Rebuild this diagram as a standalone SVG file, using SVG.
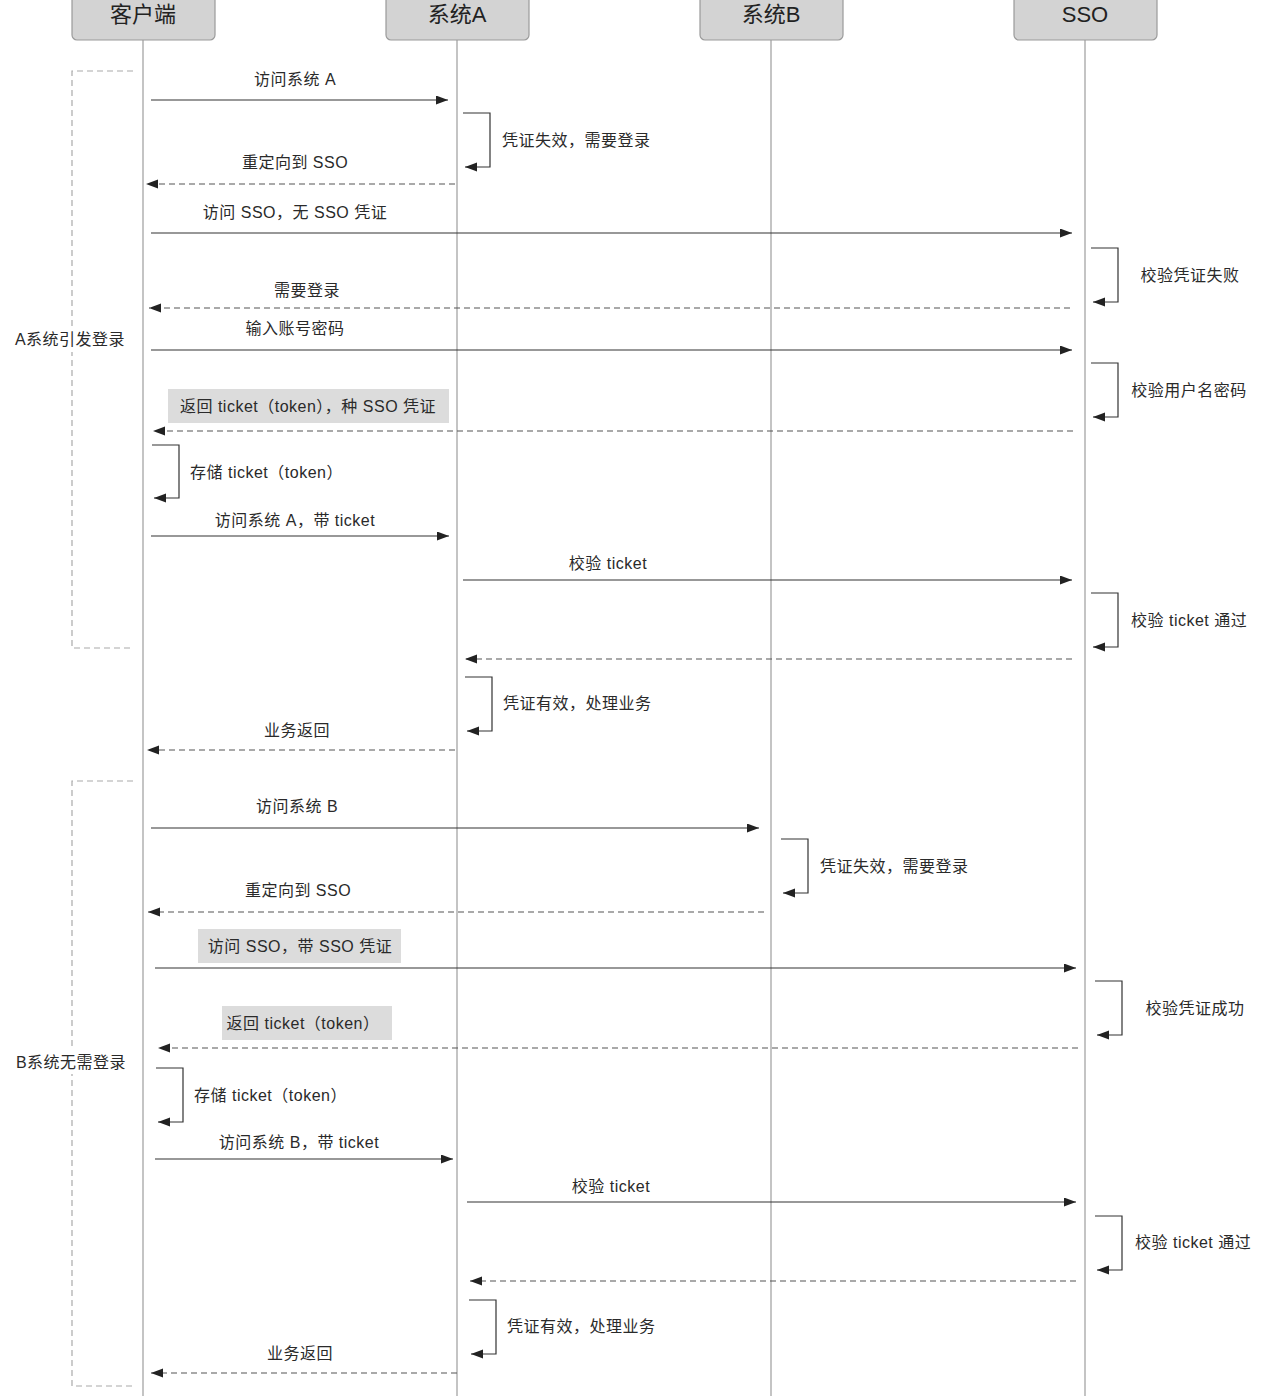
<svg xmlns="http://www.w3.org/2000/svg" width="1280" height="1396" viewBox="0 0 1280 1396">
<defs>
<marker id="ah" markerWidth="14" markerHeight="10" refX="12" refY="4.5" orient="auto" markerUnits="userSpaceOnUse">
<path d="M0,0 L12,4.5 L0,9 z" fill="#222"/>
</marker>
<style>
text{font-family:"Liberation Sans","Noto Sans CJK SC",sans-serif;fill:#2a2a2a;font-size:16px;letter-spacing:0.5px}
.hd{font-size:22px;fill:#222;text-anchor:middle;letter-spacing:0}
.box{fill:#d3d3d3;stroke:#9a9a9a;stroke-width:1.2}
.life{stroke:#b0b0b0;stroke-width:1.5;fill:none}
.frame{stroke:#aaa;stroke-width:1.2;stroke-dasharray:6 4;fill:none}
.msg{stroke:#333;stroke-width:1.2;fill:none;marker-end:url(#ah)}
.dash{stroke:#555;stroke-width:1.2;fill:none;stroke-dasharray:6 4;marker-end:url(#ah)}
.self{stroke:#333;stroke-width:1.2;fill:none;marker-end:url(#ah)}
.c{text-anchor:middle}
.lb{fill:#dcdcdc}
</style>
</defs>
<rect width="1280" height="1396" fill="#fff"/>

<g id="lifelines">
<line class="life" x1="143" y1="40" x2="143" y2="1396"/>
<line class="life" x1="457" y1="40" x2="457" y2="1396"/>
<line class="life" x1="771" y1="40" x2="771" y2="1396"/>
<line class="life" x1="1085" y1="40" x2="1085" y2="1396"/>
</g>

<g id="node-client"><rect class="box" x="72" y="-10" width="143" height="50" rx="5"/><text class="hd" x="143" y="22">客户端</text></g>
<g id="node-sysA"><rect class="box" x="386" y="-10" width="143" height="50" rx="5"/><text class="hd" x="457" y="22">系统A</text></g>
<g id="node-sysB"><rect class="box" x="700" y="-10" width="143" height="50" rx="5"/><text class="hd" x="771" y="22">系统B</text></g>
<g id="node-sso"><rect class="box" x="1014" y="-10" width="143" height="50" rx="5"/><text class="hd" x="1085" y="22">SSO</text></g>

<g id="frame-a">
<path class="frame" d="M133,71 H72 V648 H133"/>
<rect x="10" y="328" width="122" height="24" fill="#fff"/>
<text x="70" y="345" class="c">A系统引发登录</text>
</g>
<g id="frame-b">
<path class="frame" d="M133,781 H72 V1386 H133"/>
<rect x="10" y="1050" width="122" height="24" fill="#fff"/>
<text x="71" y="1068" class="c">B系统无需登录</text>
</g>

<g id="connectors">
<line class="msg" x1="151" y1="100" x2="448" y2="100"/>
<path class="self" d="M463,113 H490 V167 H465"/>
<line class="dash" x1="455" y1="184" x2="146" y2="184"/>
<line class="msg" x1="151" y1="233" x2="1072" y2="233"/>
<path class="self" d="M1091,248 H1118 V302 H1093"/>
<line class="dash" x1="1070" y1="308" x2="149" y2="308"/>
<line class="msg" x1="151" y1="350" x2="1072" y2="350"/>
<path class="self" d="M1091,363 H1118 V417 H1093"/>
<line class="dash" x1="1073" y1="431" x2="153" y2="431"/>
<path class="self" d="M152,445 H179 V498 H154"/>
<line class="msg" x1="151" y1="536" x2="449" y2="536"/>
<line class="msg" x1="463" y1="580" x2="1072" y2="580"/>
<path class="self" d="M1091,593 H1118 V647 H1093"/>
<line class="dash" x1="1072" y1="659" x2="465" y2="659"/>
<path class="self" d="M465,677 H492 V731 H467"/>
<line class="dash" x1="455" y1="750" x2="147" y2="750"/>

<line class="msg" x1="151" y1="828" x2="759" y2="828"/>
<path class="self" d="M781,839 H808 V893 H783"/>
<line class="dash" x1="764" y1="912" x2="148" y2="912"/>
<line class="msg" x1="155" y1="968" x2="1076" y2="968"/>
<path class="self" d="M1095,981 H1122 V1035 H1097"/>
<line class="dash" x1="1078" y1="1048" x2="158" y2="1048"/>
<path class="self" d="M156,1068 H183 V1122 H158"/>
<line class="msg" x1="155" y1="1159" x2="453" y2="1159"/>
<line class="msg" x1="467" y1="1202" x2="1076" y2="1202"/>
<path class="self" d="M1095,1216 H1122 V1270 H1097"/>
<line class="dash" x1="1076" y1="1281" x2="470" y2="1281"/>
<path class="self" d="M469,1300 H496 V1354 H471"/>
<line class="dash" x1="457" y1="1373" x2="151" y2="1373"/>
</g>

<g id="labels">
<text x="295" y="85" class="c">访问系统 A</text>
<text x="502" y="146">凭证失效，需要登录</text>
<text x="295" y="168" class="c">重定向到 SSO</text>
<text x="295" y="218" class="c">访问 SSO，无 SSO 凭证</text>
<text x="1190" y="281" class="c">校验凭证失败</text>
<text x="307" y="296" class="c">需要登录</text>
<text x="295" y="334" class="c">输入账号密码</text>
<text x="1189" y="396" class="c">校验用户名密码</text>
<rect class="lb" x="168" y="389" width="281" height="34"/>
<text x="308" y="412" class="c">返回 ticket（token），种 SSO 凭证</text>
<text x="190" y="478">存储 ticket（token）</text>
<text x="295" y="526" class="c">访问系统 A，带 ticket</text>
<text x="608" y="569" class="c">校验 ticket</text>
<text x="1131" y="626">校验 ticket 通过</text>
<text x="503" y="709">凭证有效，处理业务</text>
<text x="297" y="736" class="c">业务返回</text>

<text x="297" y="812" class="c">访问系统 B</text>
<text x="820" y="872">凭证失效，需要登录</text>
<text x="298" y="896" class="c">重定向到 SSO</text>
<rect class="lb" x="198" y="929" width="203" height="34"/>
<text x="300" y="952" class="c">访问 SSO，带 SSO 凭证</text>
<text x="1195" y="1014" class="c">校验凭证成功</text>
<rect class="lb" x="222" y="1006" width="170" height="34"/>
<text x="303" y="1029" class="c">返回 ticket（token）</text>
<text x="194" y="1101">存储 ticket（token）</text>
<text x="299" y="1148" class="c">访问系统 B，带 ticket</text>
<text x="611" y="1192" class="c">校验 ticket</text>
<text x="1135" y="1248">校验 ticket 通过</text>
<text x="507" y="1332">凭证有效，处理业务</text>
<text x="300" y="1359" class="c">业务返回</text>
</g>
</svg>
